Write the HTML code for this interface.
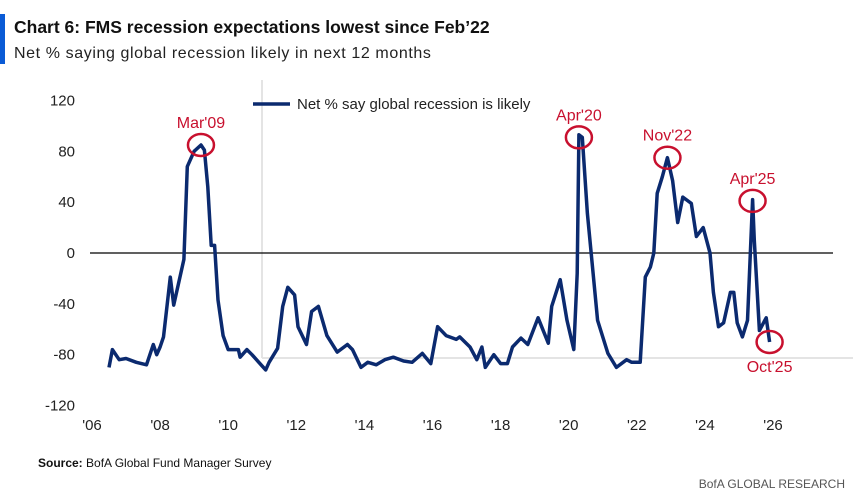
<!DOCTYPE html>
<html><head><meta charset="utf-8"><style>
body{margin:0;background:#fff;width:853px;height:502px;overflow:hidden;font-family:"Liberation Sans",sans-serif}
</style></head><body>
<svg width="853" height="502" style="position:absolute;left:0;top:0">
<rect x="0" y="14" width="5" height="50" fill="#0a5bd6"/>
<text x="14" y="33" font-size="17.5" font-weight="bold" fill="#111">Chart 6: FMS recession expectations lowest since Feb’22</text>
<text x="14" y="58" font-size="16" letter-spacing="0.6" fill="#222">Net % saying global recession likely in next 12 months</text>
<line x1="262" y1="80" x2="262" y2="358" stroke="#e4e4e4" stroke-width="2"/>
<line x1="262" y1="358" x2="853" y2="358" stroke="#e4e4e4" stroke-width="2"/>
<g id="yaxis"></g>
<g id="xaxis"></g>
<line x1="90" y1="253" x2="833" y2="253" stroke="#000" stroke-width="1.2"/>
<path id="series" fill="none" stroke="#0b2a6f" stroke-width="3.5" stroke-linejoin="round"/>
<g id="annots"></g>
<line x1="253" y1="104" x2="290" y2="104" stroke="#0b2a6f" stroke-width="3.5"/>
<text x="297" y="109" font-size="15" fill="#222">Net % say global recession is likely</text>
<text x="38" y="467" font-size="12" fill="#111"><tspan font-weight="bold">Source:</tspan> BofA Global Fund Manager Survey</text>
<text x="845" y="488" font-size="12" fill="#555" text-anchor="end">BofA GLOBAL RESEARCH</text>
</svg>
<script>
const yTicks=[120,80,40,0,-40,-80,-120];
const xTickYears=[2006,2008,2010,2012,2014,2016,2018,2020,2022,2024,2026];
const xTickLabels=["'06","'08","'10","'12","'14","'16","'18","'20","'22","'24","'26"];
const dates=[2006.5,2006.6,2006.8,2007.0,2007.3,2007.6,2007.8,2007.9,2008.0,2008.1,2008.3,2008.4,2008.7,2008.8,2009.0,2009.2,2009.3,2009.4,2009.5,2009.6,2009.7,2009.85,2010.0,2010.3,2010.35,2010.55,2010.7,2010.9,2011.1,2011.2,2011.45,2011.6,2011.75,2011.95,2012.05,2012.3,2012.45,2012.65,2012.9,2013.2,2013.5,2013.65,2013.9,2014.1,2014.35,2014.6,2014.85,2015.15,2015.4,2015.7,2015.95,2016.15,2016.4,2016.7,2016.8,2017.1,2017.3,2017.45,2017.55,2017.8,2018.0,2018.2,2018.35,2018.6,2018.8,2019.1,2019.4,2019.5,2019.75,2019.95,2020.15,2020.25,2020.3,2020.4,2020.55,2020.85,2021.15,2021.4,2021.7,2021.85,2022.1,2022.25,2022.4,2022.5,2022.6,2022.75,2022.9,2023.05,2023.2,2023.35,2023.6,2023.75,2023.95,2024.15,2024.25,2024.4,2024.55,2024.75,2024.85,2024.95,2025.1,2025.25,2025.4,2025.45,2025.6,2025.8,2025.9];
const values=[-90,-76,-84,-83,-86,-88,-72,-80,-74,-66,-19,-41,-5,68,80,85,81,52,6,6,-37,-65,-76,-76,-82,-76,-80,-86,-92,-86,-75,-42,-27,-33,-58,-72,-46,-42,-65,-78,-72,-76,-90,-86,-88,-84,-82,-85,-86,-79,-87,-58,-65,-68,-66,-74,-84,-74,-90,-80,-87,-87,-74,-67,-72,-51,-71,-42,-21,-53,-76,-16,93,91,31,-53,-79,-90,-84,-86,-86,-19,-11,0,47,60,75,57,24,44,39,13,20,0,-31,-58,-55,-31,-31,-55,-66,-53,42,10,-61,-51,-70];
const annLabels=["Mar'09","Apr'20","Nov'22","Apr'25","Oct'25"];
const annDates=[2009.2,2020.3,2022.9,2025.4,2025.9];
const annValues=[85,91,75,41,-70];
const annBelow=[false,false,false,false,true];
const NS="http://www.w3.org/2000/svg";
function X(y){return 92+(y-2006)*34.05;}
function Y(v){return 253-v*1.2708;}
const ya=document.getElementById('yaxis');
yTicks.forEach(t=>{const e=document.createElementNS(NS,'text');
e.setAttribute('x',75);e.setAttribute('y',Y(t)+5);e.setAttribute('text-anchor','end');e.setAttribute('font-size','15');e.setAttribute('fill','#222');


e.textContent=t;ya.appendChild(e);});
const xa=document.getElementById('xaxis');
xTickYears.forEach((yr,i)=>{const e=document.createElementNS(NS,'text');
e.setAttribute('x',X(yr));e.setAttribute('y',430);e.setAttribute('text-anchor','middle');e.setAttribute('font-size','15');e.setAttribute('fill','#222');


e.textContent=xTickLabels[i];xa.appendChild(e);});
document.getElementById('series').setAttribute('d',dates.map((d,i)=>(i?'L':'M')+X(d).toFixed(1)+','+Y(values[i]).toFixed(1)).join(''));
const an=document.getElementById('annots');
annLabels.forEach((l,i)=>{const cx=X(annDates[i]),cy=Y(annValues[i]);
const c=document.createElementNS(NS,'ellipse');
c.setAttribute('cx',cx);c.setAttribute('cy',cy);c.setAttribute('rx',13);c.setAttribute('ry',11);c.setAttribute('fill','none');c.setAttribute('stroke','#c8102e');c.setAttribute('stroke-width','2.5');


an.appendChild(c);
const t=document.createElementNS(NS,'text');
t.setAttribute('x',cx);t.setAttribute('y',annBelow[i]?cy+30:cy-17);t.setAttribute('text-anchor','middle');t.setAttribute('font-size','16');t.setAttribute('fill','#c8102e');


t.textContent=l;an.appendChild(t);});
</script>
</body></html>
